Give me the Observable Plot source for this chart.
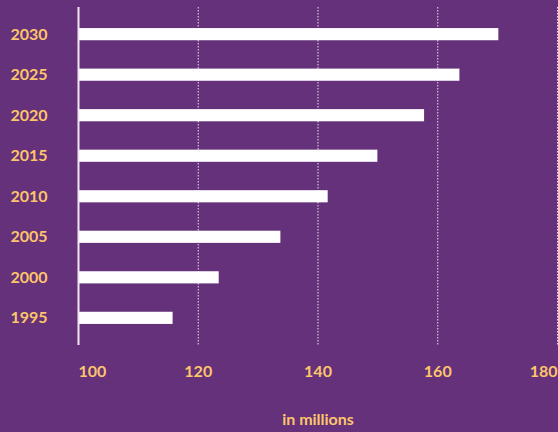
<!DOCTYPE html>
<html><head><meta charset="utf-8">
<script src="https://cdn.jsdelivr.net/npm/d3@7"></script>
<script src="https://cdn.jsdelivr.net/npm/@observablehq/plot@0.6"></script>
<style>html,body{margin:0;padding:0;background:#64317a;}</style>
</head><body><div id="chart"></div>
<script>
const years = ["1995","2000","2005","2010","2015","2020","2025","2030"];
const population = [115.8,123.5,133.8,141.7,150.0,157.8,163.7,170.2];
const xTicks = [100,120,140,160,180];
const data = years.map((y,i)=>({year:y, value:population[i]}));
const textColor = "#fcc56c";
const chart = Plot.plot({
  width:558, height:432, marginTop:7, marginBottom:87, marginLeft:78, marginRight:1,
  style:{background:"#64317a", color:textColor, fontFamily:"Lato, sans-serif", fontWeight:"bold"},
  x:{domain:[100,180]},
  y:{domain:years.slice().reverse(), paddingInner:0.7, paddingOuter:0.52, round:false},
  marks:[
    Plot.gridX(xTicks.slice(1), {stroke:"white", strokeOpacity:0.85, strokeDasharray:"1.5,1.5", strokeWidth:1}),
    Plot.barX(data, {x1:100, x2:"value", y:"year", fill:"white"}),
    Plot.ruleX([100], {stroke:"#efe8f3", strokeWidth:2}),
    Plot.axisY({tickSize:0, tickPadding:31, fontSize:16, label:null}),
    Plot.axisX({ticks:[100], tickSize:0, tickPadding:20, textAnchor:"start", fontSize:16, label:null}),
    Plot.axisX({ticks:[120,140,160], tickSize:0, tickPadding:20, fontSize:16, label:"in millions", labelAnchor:"center", labelArrow:"none", labelOffset:79}),
    Plot.axisX({ticks:[180], tickSize:0, tickPadding:20, textAnchor:"end", fontSize:16, label:null})
  ]
});
document.getElementById("chart").append(chart);
</script>
</body></html>
